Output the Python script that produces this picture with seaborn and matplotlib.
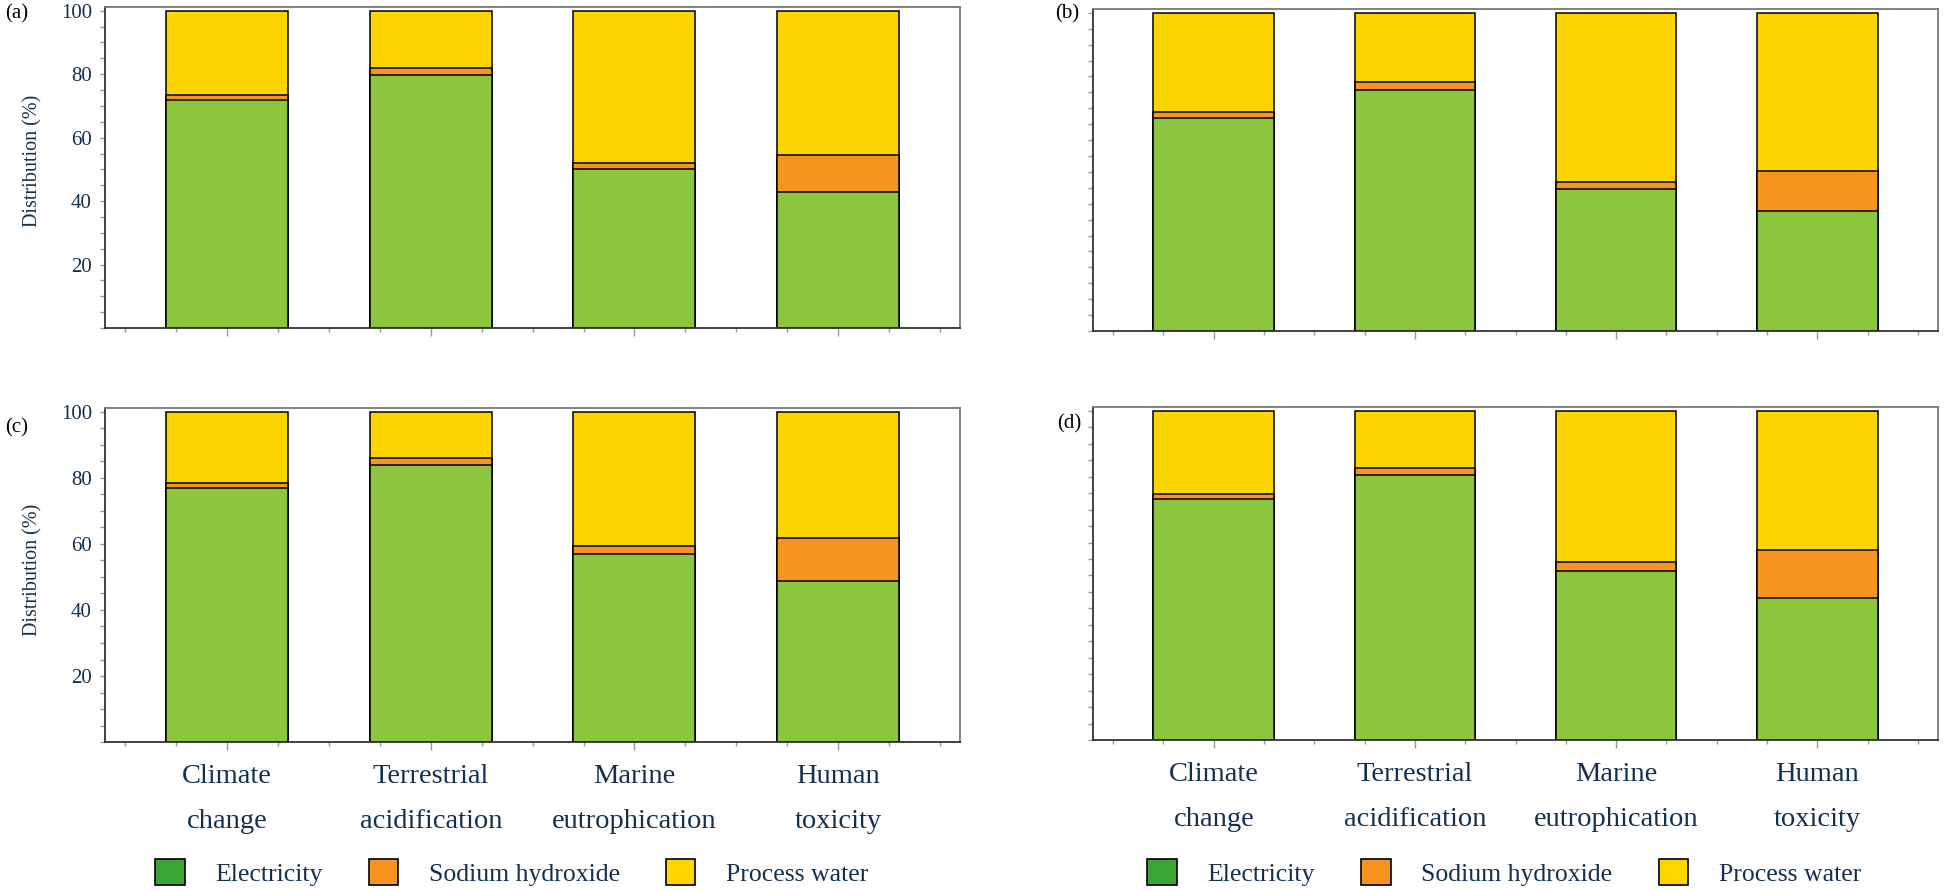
import pandas as pd
import matplotlib.pyplot as plt
import seaborn as sns
from matplotlib.patches import Patch
from matplotlib.ticker import MultipleLocator

categories = ["Climate change", "Terrestrial acidification",
              "Marine eutrophication", "Human toxicity"]
tick_labels = ["Climate\nchange", "Terrestrial\nacidification",
               "Marine\neutrophication", "Human\ntoxicity"]
series_names = ["Electricity", "Sodium hydroxide", "Process water"]

# shares (%), one set per panel
electricity_a = [71.9, 79.9, 50.0, 42.9]
sodium_a = [1.6, 2.0, 2.1, 11.6]
water_a = [26.5, 18.1, 47.9, 45.5]

electricity_b = [67.0, 75.8, 44.6, 37.7]
sodium_b = [1.9, 2.4, 2.2, 12.7]
water_b = [31.1, 21.8, 53.2, 49.6]

electricity_c = [77.0, 83.8, 57.1, 48.7]
sodium_c = [1.6, 2.2, 2.4, 13.1]
water_c = [21.4, 14.0, 40.5, 38.2]

electricity_d = [73.2, 80.6, 51.5, 43.1]
sodium_d = [1.6, 2.2, 2.6, 14.7]
water_d = [25.2, 17.2, 45.9, 42.2]

panels = {
    "a": (electricity_a, sodium_a, water_a),
    "b": (electricity_b, sodium_b, water_b),
    "c": (electricity_c, sodium_c, water_c),
    "d": (electricity_d, sodium_d, water_d),
}

bar_colors = ["#8cc63e", "#f7941d", "#fcd400"]
legend_colors = ["#3aa535", "#f7931e", "#fed700"]
text_color = "#12304f"

sns.set_style("ticks")
plt.rcParams["font.family"] = ["Liberation Serif", "DejaVu Serif"]

fig = plt.figure(figsize=(19.46, 8.91), dpi=100)

# axes boxes in figure fractions [left, bottom, width, height]
boxes = {
    "a": [0.054, 0.6319, 0.4394, 0.3603],
    "b": [0.5617, 0.6285, 0.4342, 0.3614],
    "c": [0.054, 0.1672, 0.4394, 0.3749],
    "d": [0.5617, 0.1695, 0.4342, 0.3737],
}


def draw_panel(ax, elec, naoh, water, show_y, show_x):
    df = pd.DataFrame({"category": categories, "elec": elec,
                       "naoh": naoh, "water": water})
    df["top2"] = df["elec"] + df["naoh"]
    df["top3"] = df["top2"] + df["water"]
    # stacked look: draw cumulative totals from the tallest down
    for col, color in zip(["top3", "top2", "elec"], bar_colors[::-1]):
        sns.barplot(data=df, x="category", y=col, order=categories,
                    color=color, saturation=1, width=0.6,
                    edgecolor="black", linewidth=1.1, ax=ax)
    ax.set_xlim(-0.6, 3.6)
    ax.set_ylim(0, 101.2)
    ax.set_xlabel("")
    ax.set_ylabel("")

    ax.xaxis.set_minor_locator(MultipleLocator(0.25))
    ax.set_xticks(range(len(categories)))
    ax.tick_params(axis="x", which="both", bottom=True, top=False)
    ax.tick_params(axis="x", which="major", length=6, width=1, color="#999999",
                   direction="out", pad=10, labelsize=20.5, labelcolor=text_color)
    ax.tick_params(axis="x", which="minor", length=3, width=1, color="#999999",
                   direction="out")
    if show_x:
        ax.set_xticklabels(tick_labels, linespacing=2.05)
    else:
        ax.set_xticklabels([])

    ax.set_yticks(range(0, 101, 5))
    ax.tick_params(axis="y", left=True, right=False, length=3.5, width=1,
                   color="#999999", direction="out", pad=6, labelsize=15,
                   labelcolor=text_color)
    if show_y:
        ax.set_yticklabels([str(v) if v >= 20 and v % 20 == 0 else ""
                            for v in range(0, 101, 5)])
    else:
        ax.set_yticklabels([])

    for side in ["left", "right", "top", "bottom"]:
        ax.spines[side].set_visible(True)
        ax.spines[side].set_color("#333333")
        ax.spines[side].set_linewidth(1.3)
    ax.spines["top"].set_color("#777777")
    ax.spines["right"].set_color("#777777")


for key, (elec, naoh, water) in panels.items():
    ax = fig.add_axes(boxes[key])
    draw_panel(ax, elec, naoh, water,
               show_y=key in ("a", "c"), show_x=key in ("c", "d"))

# panel letters and y titles
label_pos = {"a": (0.0026, 0.985), "b": (0.542, 0.985),
             "c": (0.0026, 0.52), "d": (0.543, 0.524)}
for key, (x, y) in label_pos.items():
    fig.text(x, y, f"({key})", fontsize=15, color="black", va="center")

fig.text(0.017, 0.82, "Distribution (%)", rotation=90, fontsize=14.5,
         color=text_color, ha="center", va="center")
fig.text(0.017, 0.36, "Distribution (%)", rotation=90, fontsize=14.5,
         color=text_color, ha="center", va="center")

handles = [Patch(facecolor=c, edgecolor="black", linewidth=1.2)
           for c in legend_colors]
legend_setup = [(0.263, 1.77), (0.773, 1.8)]
for cx, spacing in legend_setup:
    fig.legend(handles, series_names, loc="center", ncol=3,
               bbox_to_anchor=(cx, 0.021), frameon=False, fontsize=18.5,
               handlelength=1.15, handleheight=1.15, handletextpad=1.2,
               columnspacing=spacing, labelcolor=text_color)

fig.savefig("out.png", dpi=100)
